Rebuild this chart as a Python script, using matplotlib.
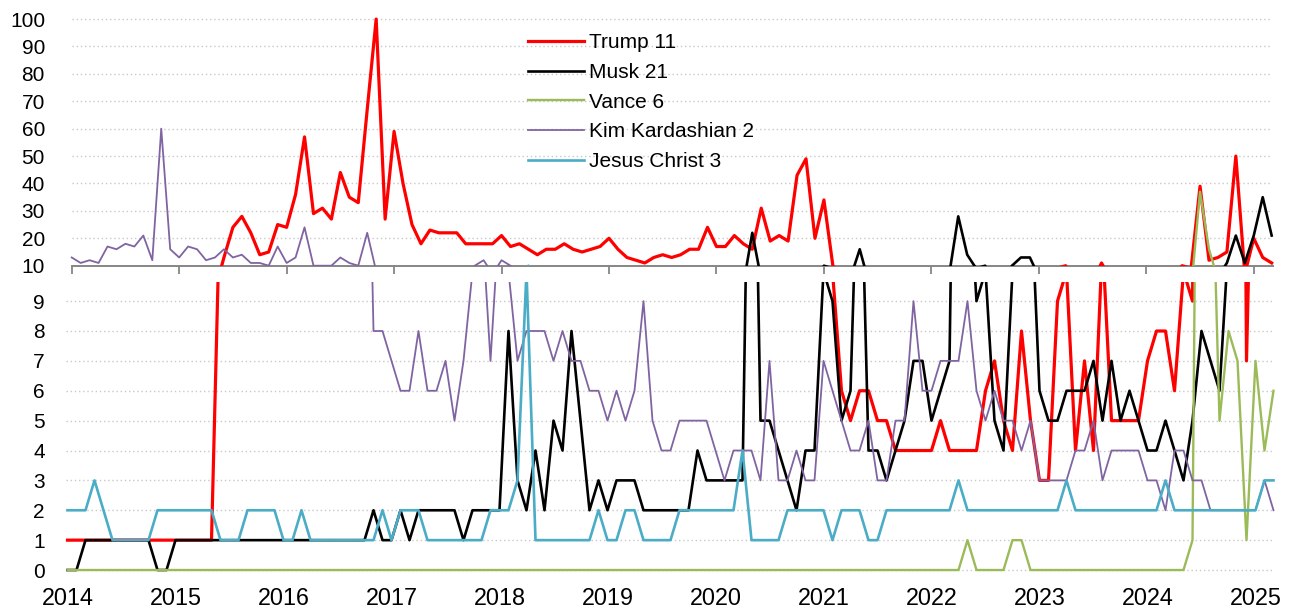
import matplotlib
matplotlib.use('Agg')
import matplotlib.pyplot as plt

plt.rcParams['font.family'] = ['Liberation Sans', 'DejaVu Sans']

# ---------------- data (monthly, Jan 2014 .. Mar 2025) ----------------
years = list(range(2014, 2026))

trump = [1, 1, 1, 1, 1, 1, 1, 1, 1, 1, 1, 1, 1, 1, 1, 1, 1,
         13, 24, 28, 22, 14, 15, 25, 24, 36, 57, 29, 31, 27, 44, 35, 33,
         67, 100, 27, 59, 40, 25, 18, 23, 22, 22, 22, 18, 18, 18, 18, 21,
         17, 18, 16, 14, 16, 16, 18, 16, 15, 16, 17, 20, 16, 13, 12, 11,
         13, 14, 13, 14, 16, 16, 24, 17, 17, 21, 18, 16, 31, 19, 21, 19,
         43, 49, 20, 34, 10, 6, 5, 6, 6, 5, 5, 4, 4, 4, 4, 4, 5, 4, 4, 4,
         4, 6, 7, 5, 4, 8, 5, 3, 3, 9, 10, 4, 7, 4, 11, 5, 5, 5, 5, 7, 8,
         8, 6, 10, 9, 39, 12, 13, 15, 50, 7, 20, 13, 11]

musk = [0, 0, 1, 1, 1, 1, 1, 1, 1, 1, 0, 0,
        1, 1, 1, 1, 1, 1, 1, 1, 1, 1, 1, 1, 1, 1, 1, 1, 1, 1, 1, 1, 1, 1,
        2, 1, 1, 2, 1, 2, 2, 2, 2, 2, 1, 2, 2, 2, 2, 8, 3, 2, 4, 2, 5, 4,
        8, 5, 2, 3, 2, 3, 3, 3, 2, 2, 2, 2, 2, 2, 4, 3, 3, 3, 3, 3, 22, 5,
        5, 4, 3, 2, 4, 4, 10, 9, 5, 6, 16, 4, 4, 3, 4, 5, 7, 7, 5, 6, 7,
        28, 14, 9, 10, 5, 4, 10, 13, 13, 6, 5, 5, 6, 6, 6, 7, 5, 7, 5, 6,
        5, 4, 4, 5, 4, 3, 5, 8, 7, 6, 11, 21, 11, 21, 35, 21]

vance = [0] * 100 + [1, 0, 0, 0, 0, 1, 1, 0] + [0] * 17 + \
        [1, 37, 16, 5, 8, 7, 1, 7, 4, 6]

kim = [13, 11, 12, 11, 17, 16, 18, 17, 21, 12, 60, 16, 13, 17, 16, 12,
       13, 16, 13, 14, 11, 11, 10, 17, 11, 13, 24, 10, 10, 10, 13, 11, 10,
       22, 8, 8, 7, 6, 6, 8, 6, 6, 7, 5, 7, 10, 12, 7, 12, 10, 7, 8, 8, 8,
       7, 8, 7, 7, 6, 6, 5, 6, 5, 6, 9, 5, 4, 4, 5, 5, 5, 5, 4, 3, 4, 4,
       4, 3, 7, 3, 3, 4, 3, 3, 7, 6, 5, 4, 4, 5, 3, 3, 5, 5, 9, 6, 6, 7,
       7, 7, 9, 6, 5, 6, 5, 5, 4, 5, 3, 3, 3, 3, 4, 4, 5, 3, 4, 4, 4, 4,
       3, 3, 2, 4, 4, 3, 3, 2, 2, 2, 2, 2, 2, 3, 2]

jesus = [2, 2, 2, 3, 2, 1, 1, 1, 1, 1, 2, 2, 2, 2, 2, 2, 2, 1, 1, 1,
         2, 2, 2, 2, 1, 1, 2, 1, 1, 1, 1, 1, 1, 1, 1, 2, 1, 2, 2, 2, 1,
         1, 1, 1, 1, 1, 1, 2, 2, 2, 3, 10, 1, 1, 1, 1, 1, 1, 1, 2, 1, 1,
         2, 2, 1, 1, 1, 1, 2, 2, 2, 2, 2, 2, 2, 4, 1, 1, 1, 1, 2, 2, 2, 2,
         2, 1, 2, 2, 2, 1, 1, 2, 2, 2, 2, 2, 2, 2, 2, 3, 2, 2, 2, 2, 2, 2,
         2, 2, 2, 2, 2, 3, 2, 2, 2, 2, 2, 2, 2, 2, 2, 2, 3, 2, 2, 2, 2, 2,
         2, 2, 2, 2, 2, 3, 3]

series = [
    ("Trump 11", trump, "#FF0000", 2.3),
    ("Musk 21", musk, "#000000", 1.9),
    ("Vance 6", vance, "#9BBB59", 1.7),
    ("Kim Kardashian 2", kim, "#8064A2", 1.3),
    ("Jesus Christ 3", jesus, "#4BACC6", 1.9),
]

# ---------------- layout ----------------
W, H = 1297, 612
fig = plt.figure(figsize=(W / 100, H / 100), dpi=100)


def rect(x0, x1, ytop, ybot):
    return [x0 / W, 1 - ybot / H, (x1 - x0) / W, (ybot - ytop) / H]


ax_top = fig.add_axes(rect(60, 1280, 16.3, 265.7))
ax_bot = fig.add_axes(rect(60, 1280, 282, 576))

n = len(trump)
months = list(range(n))

# top panel: month i at x = 71.7 + 8.955 i ; bottom: x = 67.5 + 9.0 i
ax_top.set_xlim((60 - 71.7) / 8.955, (1280 - 71.7) / 8.955)
ax_bot.set_xlim((60 - 67.5) / 9.0, (1280 - 67.5) / 9.0)
ax_top.set_ylim(10, 101)
ax_bot.set_ylim(-0.2, 9.64)

grid_kw = dict(colors="#C8C8C8", linestyles=(0, (1, 2)), linewidth=1.0, zorder=0)
ax_top.hlines(range(20, 101, 10), 0, 133.9, **grid_kw)
ax_bot.hlines(range(0, 10), -0.15, 134.0, **grid_kw)

handles = []
for label, vals, col, lw in series:
    h, = ax_top.plot(months, vals, color=col, lw=lw, label=label,
                     solid_joinstyle="round", zorder=3)
    ax_bot.plot(months, vals, color=col, lw=lw, solid_joinstyle="round", zorder=3)
    handles.append(h)

# ---------------- axes styling ----------------
for ax in (ax_top, ax_bot):
    for s in ("top", "right", "left"):
        ax.spines[s].set_visible(False)
    ax.patch.set_alpha(0)

ax_bot.spines["bottom"].set_visible(False)

ax_top.spines["bottom"].set_color("#868686")
ax_top.spines["bottom"].set_linewidth(1.4)
ax_top.spines["bottom"].set_bounds(0, 134.2)
ax_top.set_xticks([12 * k for k in range(len(years))])
ax_top.tick_params(axis="x", direction="out", length=5.5, width=1.3,
                   color="#868686", labelbottom=False)

ax_top.set_yticks(range(10, 101, 10))
ax_top.tick_params(axis="y", length=0, pad=10.8, labelsize=15)
ax_bot.set_yticks(range(0, 10))
ax_bot.tick_params(axis="y", length=0, pad=10.8, labelsize=15)

ax_bot.set_xticks([12 * k for k in range(len(years))])
ax_bot.set_xticklabels([str(y) for y in years])
ax_bot.tick_params(axis="x", length=0, pad=8, labelsize=16.8)

fig.legend(handles=handles, loc="upper left",
           bbox_to_anchor=(527.7 / W, 1 - 33.5 / H), frameon=False,
           fontsize=15, handlelength=2.69, handletextpad=0.27,
           labelspacing=0.51, borderpad=0, borderaxespad=0)

fig.savefig("out.png", dpi=100)
